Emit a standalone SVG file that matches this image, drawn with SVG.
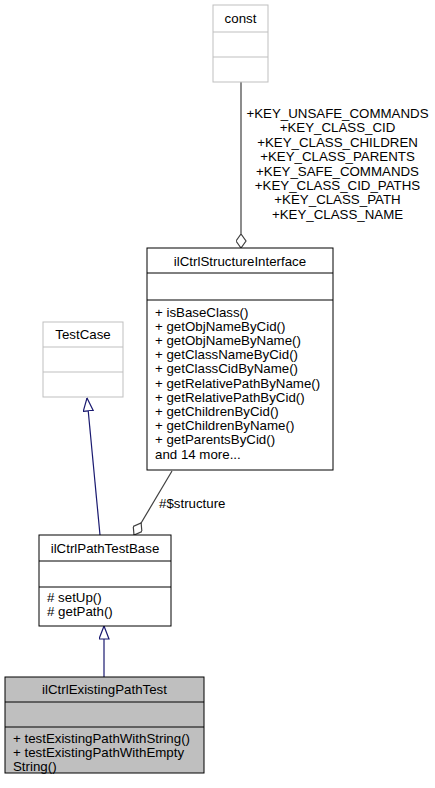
<svg xmlns="http://www.w3.org/2000/svg" width="435" height="788" viewBox="0 0 435 788">
<style>
text{font-family:"Liberation Sans",Arial,sans-serif;font-size:13.3px;fill:#000}
.c{text-anchor:middle}
.box{fill:#fff;stroke:#000;stroke-width:1}
.ext{fill:#fff;stroke:#bfbfbf;stroke-width:1}
.cur{fill:#bfbfbf;stroke:#000;stroke-width:1}
.inh{fill:none;stroke:#191970;stroke-width:1.2}
.agg{fill:none;stroke:#404040;stroke-width:1.2}
</style>
<defs>
<marker id="tri" markerUnits="userSpaceOnUse" viewBox="0 0 14 11" markerWidth="14" markerHeight="11" refX="13.5" refY="5.5" orient="auto">
<path d="M0.5,0.5 L13.5,5.5 L0.5,10.5 Z" fill="#fff" stroke="#191970" stroke-width="1.2"/>
</marker>
<marker id="dia" markerUnits="userSpaceOnUse" viewBox="0 0 15 11" markerWidth="15" markerHeight="11" refX="14.5" refY="5.5" orient="auto">
<path d="M0.5,5.5 L7.5,0.5 L14.5,5.5 L7.5,10.5 Z" fill="#fff" stroke="#404040" stroke-width="1.2"/>
</marker>
</defs>
<rect width="435" height="788" fill="#fff"/>
<g id="connectors">
<path class="agg" d="M241,82 L241,248" marker-end="url(#dia)"/>
<g class="c">
<text x="337.5" y="118">+KEY_UNSAFE_COMMANDS</text>
<text x="337.5" y="132.4">+KEY_CLASS_CID</text>
<text x="337.5" y="146.8">+KEY_CLASS_CHILDREN</text>
<text x="337.5" y="161.2">+KEY_CLASS_PARENTS</text>
<text x="337.5" y="175.6">+KEY_SAFE_COMMANDS</text>
<text x="337.5" y="190">+KEY_CLASS_CID_PATHS</text>
<text x="337.5" y="204.4">+KEY_CLASS_PATH</text>
<text x="337.5" y="218.8">+KEY_CLASS_NAME</text>
</g>
<path class="agg" d="M172,471 L134,535" marker-end="url(#dia)"/>
<text x="159" y="507.5">#$structure</text>
<path class="inh" d="M100,535 L87,398" marker-end="url(#tri)"/>
<path class="inh" d="M104,677 L104,626" marker-end="url(#tri)"/>
</g>
<g id="const">
<rect class="ext" x="213" y="5" width="55" height="77"/>
<path d="M213,32 H268 M213,57 H268" stroke="#bfbfbf"/>
<text class="c" x="240.5" y="22.5">const</text>
</g>
<g id="ilCtrlStructureInterface">
<rect class="box" x="147" y="248" width="186" height="222"/>
<path d="M147,273 H333 M147,300 H333" stroke="#000"/>
<text class="c" x="240" y="266">ilCtrlStructureInterface</text>
<text x="155" y="316.5">+ isBaseClass()</text>
<text x="155" y="330.7">+ getObjNameByCid()</text>
<text x="155" y="344.9">+ getObjNameByName()</text>
<text x="155" y="359.1">+ getClassNameByCid()</text>
<text x="155" y="373.3">+ getClassCidByName()</text>
<text x="155" y="387.5">+ getRelativePathByName()</text>
<text x="155" y="401.7">+ getRelativePathByCid()</text>
<text x="155" y="415.9">+ getChildrenByCid()</text>
<text x="155" y="430.1">+ getChildrenByName()</text>
<text x="155" y="444.3">+ getParentsByCid()</text>
<text x="155" y="458.5">and 14 more...</text>
</g>
<g id="TestCase">
<rect class="ext" x="43" y="322" width="80" height="75"/>
<path d="M43,347 H123 M43,372 H123" stroke="#bfbfbf"/>
<text class="c" x="83" y="338.5">TestCase</text>
</g>
<g id="ilCtrlPathTestBase">
<rect class="box" x="39" y="535" width="132" height="91"/>
<path d="M39,561 H171 M39,587 H171" stroke="#000"/>
<text class="c" x="105" y="552.5">ilCtrlPathTestBase</text>
<text x="47" y="601.5">#  setUp()</text>
<text x="47" y="616">#  getPath()</text>
</g>
<g id="ilCtrlExistingPathTest">
<rect class="cur" x="5" y="677" width="199" height="96"/>
<path d="M5,702 H204 M5,727 H204" stroke="#000"/>
<text class="c" x="104.5" y="694">ilCtrlExistingPathTest</text>
<text x="13" y="742.5">+ testExistingPathWithString()</text>
<text x="13" y="757">+ testExistingPathWithEmpty</text>
<text x="13" y="771">String()</text>
</g>
</svg>
